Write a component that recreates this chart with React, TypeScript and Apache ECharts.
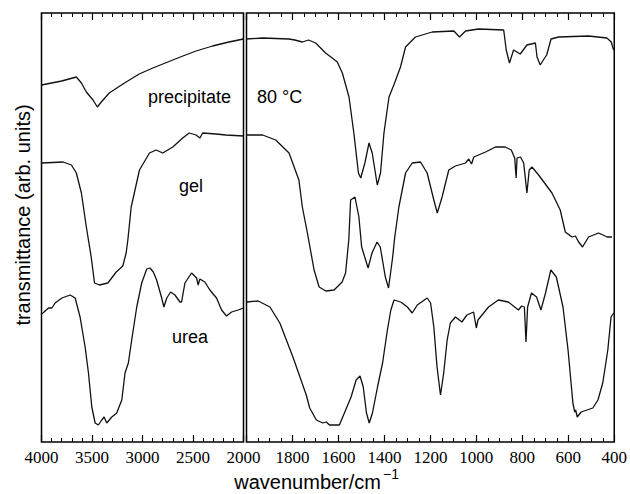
import React, { useEffect, useRef } from "react";
import * as echarts from "echarts";

// wavenumber (cm^-1), transmittance (arb. units, offset traces)
const precipitateHigh: [number, number][] = [
  [4000, 357], [3800, 361], [3655, 365], [3605, 359], [3556, 350], [3490, 342], [3447, 335],
  [3408, 340], [3329, 349], [3194, 358], [3033, 368], [2898, 374], [2700, 382], [2600, 386],
  [2470, 391], [2306, 396], [2145, 400], [2000, 403],
];
const precipitateLow: [number, number][] = [
  [2000, 403], [1930, 404], [1815, 403], [1790, 402], [1757, 400], [1730, 402], [1699, 399],
  [1656, 389], [1627, 384], [1605, 380], [1583, 369], [1554, 345], [1533, 309], [1513, 269],
  [1503, 264], [1485, 279], [1467, 299], [1453, 289], [1431, 257], [1417, 269], [1402, 309],
  [1380, 345], [1359, 357], [1330, 375], [1308, 395], [1265, 405], [1192, 410], [1098, 411],
  [1073, 405], [1047, 411], [990, 413], [881, 412], [870, 392], [856, 379], [838, 392],
  [809, 388], [780, 397], [743, 399], [736, 385], [722, 377], [703, 384], [694, 387],
  [675, 403], [642, 405], [512, 406], [432, 404], [413, 400], [403, 392],
];
const gelHigh: [number, number][] = [
  [4000, 279], [3786, 280], [3704, 277], [3655, 269], [3605, 249], [3556, 215], [3508, 185],
  [3475, 159], [3426, 157], [3343, 159], [3260, 170], [3195, 176], [3162, 189], [3145, 202],
  [3112, 235], [3030, 272], [2931, 289], [2865, 292], [2799, 289], [2700, 295], [2602, 304],
  [2537, 309], [2470, 307], [2431, 304], [2405, 309], [2273, 308], [2175, 307], [2000, 306],
];
const gelLow: [number, number][] = [
  [2000, 307], [1930, 307], [1873, 302], [1815, 289], [1772, 262], [1757, 235], [1735, 209],
  [1706, 172], [1684, 155], [1655, 151], [1619, 152], [1584, 160], [1569, 169], [1555, 202],
  [1547, 242], [1528, 245], [1511, 225], [1499, 195], [1471, 174], [1454, 189], [1432, 200],
  [1418, 195], [1396, 165], [1382, 154], [1364, 185], [1355, 205], [1337, 235], [1308, 269],
  [1279, 279], [1243, 280], [1214, 269], [1185, 242], [1170, 229], [1149, 245], [1120, 272],
  [1091, 276], [1047, 279], [1033, 283], [1021, 278], [1011, 285], [960, 290], [917, 295],
  [874, 295], [848, 292], [833, 284], [827, 264], [823, 284], [808, 285], [794, 279],
  [780, 249], [770, 272], [758, 275], [729, 267], [671, 249], [635, 232], [613, 210],
  [584, 205], [569, 206], [555, 200], [538, 195], [512, 205], [468, 209], [431, 205], [410, 205],
];
const ureaHigh: [number, number][] = [
  [4000, 128], [3986, 129], [3931, 134], [3897, 134], [3865, 139], [3798, 144], [3716, 147],
  [3667, 144], [3618, 125], [3568, 95], [3535, 69], [3502, 35], [3469, 19], [3437, 17],
  [3403, 22], [3380, 25], [3354, 19], [3304, 25], [3255, 29], [3205, 42], [3173, 69],
  [3140, 79], [3107, 102], [3057, 135], [3008, 159], [2958, 173], [2926, 174], [2893, 170],
  [2860, 162], [2810, 144], [2788, 135], [2760, 144], [2721, 150], [2679, 147], [2629, 140],
  [2613, 140], [2580, 159], [2514, 169], [2464, 164], [2449, 157], [2432, 163], [2383, 160],
  [2333, 152], [2267, 144], [2217, 132], [2168, 126], [2118, 130], [2053, 132], [2000, 134],
];
const ureaLow: [number, number][] = [
  [2000, 140], [1949, 141], [1898, 135], [1855, 119], [1798, 85], [1740, 47], [1725, 34],
  [1696, 22], [1668, 19], [1653, 20], [1639, 17], [1596, 17], [1574, 29], [1545, 45],
  [1523, 62], [1506, 66], [1492, 55], [1478, 29], [1466, 19], [1452, 29], [1430, 55],
  [1408, 79], [1387, 112], [1372, 132], [1358, 142], [1329, 140], [1300, 135], [1279, 129],
  [1257, 137], [1214, 144], [1199, 139], [1185, 115], [1171, 75], [1156, 47], [1142, 69],
  [1127, 102], [1113, 119], [1091, 125], [1063, 120], [1041, 127], [1012, 130], [1000, 114],
  [993, 122], [947, 135], [904, 142], [861, 140], [817, 132], [803, 136], [791, 135],
  [784, 100], [777, 135], [760, 149], [738, 145], [719, 132], [699, 149], [676, 172],
  [652, 165], [623, 135], [601, 92], [580, 39], [572, 30], [568, 32], [561, 25], [544, 30],
  [493, 34], [471, 42], [450, 59], [428, 92], [414, 125], [402, 129],
];

const tickLabelsHigh = [4000, 3500, 3000, 2500, 2000];
const tickLabelsLow = [1800, 1600, 1400, 1200, 1000, 800, 600, 400];
const sampleLabels = ["precipitate", "80 °C", "gel", "urea"];
const yTitle = "transmittance (arb. units)";
const xTitle = "wavenumber/cm";
const xTitleSup = "−1";

const BLACK = "#000";
const SERIF = "Liberation Serif";
const SANS = "Liberation Sans";

function makeX(gridIndex: number, min: number, max: number, interval: number, minorSplit: number, top: boolean, shown: number[]) {
  return {
    type: "value",
    gridIndex,
    min,
    max,
    interval,
    inverse: true,
    position: top ? "top" : "bottom",
    axisLine: { show: false },
    splitLine: { show: false },
    axisTick: { show: true, inside: true, length: 7, lineStyle: { color: BLACK, width: 1.2 } },
    minorTick: { show: true, splitNumber: minorSplit, length: 4, lineStyle: { color: BLACK, width: 1 } },
    axisLabel: {
      show: !top,
      color: BLACK,
      fontFamily: SERIF,
      fontSize: 17,
      margin: 7,
      formatter: (v: number) => (shown.indexOf(v) >= 0 ? String(v) : ""),
    },
  };
}

export default function App() {
  const ref = useRef<HTMLDivElement>(null);
  useEffect(() => {
    if (!ref.current) return;
    const chart = echarts.init(ref.current, undefined, { renderer: "svg" });
    const lineStyle = { color: "#111", width: 1.3 };
    const mk = (data: [number, number][], idx: number) => ({
      type: "line",
      data,
      xAxisIndex: idx === 0 ? 0 : 2,
      yAxisIndex: idx,
      showSymbol: false,
      symbol: "none",
      lineStyle,
      silent: true,
    });
    chart.setOption({
      animation: false,
      backgroundColor: "#fff",
      grid: [
        { left: 41.5, top: 13, width: 202, height: 429, show: true, borderColor: BLACK, borderWidth: 1.5, backgroundColor: "transparent" },
        { left: 246.5, top: 13, width: 370, height: 429, show: true, borderColor: BLACK, borderWidth: 1.5, backgroundColor: "transparent" },
      ],
      xAxis: [
        makeX(0, 2000, 4000, 500, 5, false, tickLabelsHigh),
        makeX(0, 2000, 4000, 500, 5, true, tickLabelsHigh),
        makeX(1, 400, 2000, 200, 4, false, tickLabelsLow),
        makeX(1, 400, 2000, 200, 4, true, tickLabelsLow),
      ],
      yAxis: [
        { type: "value", gridIndex: 0, min: 0, max: 429, show: false },
        { type: "value", gridIndex: 1, min: 0, max: 429, show: false },
      ],
      series: [
        mk(precipitateHigh, 0),
        mk(precipitateLow, 1),
        mk(gelHigh, 0),
        mk(gelLow, 1),
        mk(ureaHigh, 0),
        mk(ureaLow, 1),
      ],
      graphic: [
        { type: "text", x: 148, y: 97, style: { text: sampleLabels[0], fill: BLACK, fontFamily: SANS, fontSize: 18, align: "left", verticalAlign: "middle" } },
        { type: "text", x: 257, y: 97, style: { text: sampleLabels[1], fill: BLACK, fontFamily: SANS, fontSize: 18, align: "left", verticalAlign: "middle" } },
        { type: "text", x: 191, y: 186, style: { text: sampleLabels[2], fill: BLACK, fontFamily: SANS, fontSize: 18, align: "center", verticalAlign: "middle" } },
        { type: "text", x: 190, y: 337, style: { text: sampleLabels[3], fill: BLACK, fontFamily: SANS, fontSize: 18, align: "center", verticalAlign: "middle" } },
        { type: "text", x: 23, y: 215, rotation: Math.PI / 2, style: { text: yTitle, fill: BLACK, fontFamily: SANS, fontSize: 20, align: "center", verticalAlign: "middle" } },
        { type: "text", x: 381, y: 482, style: { text: xTitle, fill: BLACK, fontFamily: SANS, fontSize: 20, align: "right", verticalAlign: "middle" } },
        { type: "text", x: 383, y: 474, style: { text: xTitleSup, fill: BLACK, fontFamily: SANS, fontSize: 14, align: "left", verticalAlign: "middle" } },
      ],
    });
    return () => chart.dispose();
  }, []);
  return <div ref={ref} style={{ width: 630, height: 494, position: "absolute", left: 0, top: 0 }} />;
}
